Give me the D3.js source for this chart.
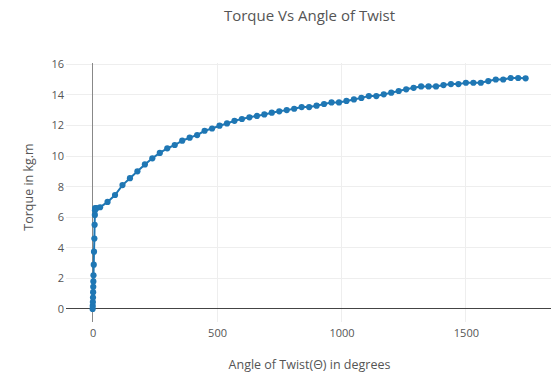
<!DOCTYPE html>
<html>
<head>
<meta charset="utf-8">
<script src="https://cdn.jsdelivr.net/npm/d3@7"></script>
<style>
  html, body { margin: 0; padding: 0; background: #fff; }
  svg { display: block; font-family: "Open Sans", "Noto Sans", sans-serif; }
</style>
</head>
<body>
<svg id="chart" width="551" height="374"></svg>
<script>
const angles = [0, 0.5, 1, 1.5, 2, 2.5, 3, 3.5, 4.5, 5.5, 7, 8, 9, 9.5, 10, 16, 30,
  60, 90, 120, 150, 180, 210, 240, 270, 300, 330, 360, 390, 420, 450, 480, 510, 540, 570,
  600, 630, 660, 690, 720, 750, 780, 810, 840, 870, 900, 930, 960, 990, 1020, 1050, 1080,
  1110, 1140, 1170, 1200, 1230, 1260, 1290, 1320, 1350, 1380, 1410, 1440, 1470, 1500,
  1530, 1560, 1590, 1620, 1650, 1680, 1710, 1740];
const torques = [0, 0.2, 0.45, 0.75, 1.1, 1.45, 1.8, 2.2, 2.9, 3.75, 4.6, 5.5, 6.15, 6.45, 6.6, 6.6, 6.65,
  7.0, 7.45, 8.1, 8.55, 9.0, 9.45, 9.85, 10.2, 10.5, 10.72, 11.0, 11.2, 11.37, 11.65, 11.8, 11.98, 12.13, 12.3,
  12.42, 12.53, 12.62, 12.72, 12.83, 12.92, 13.0, 13.09, 13.2, 13.2, 13.29, 13.4, 13.5, 13.5, 13.6, 13.7, 13.8,
  13.92, 13.92, 14.03, 14.14, 14.25, 14.36, 14.46, 14.55, 14.55, 14.55, 14.64, 14.7, 14.7, 14.79,
  14.79, 14.79, 14.9, 15.0, 15.0, 15.1, 15.1, 15.08];
const xTicks = [0, 500, 1000, 1500];
const yTicks = [0, 2, 4, 6, 8, 10, 12, 14, 16];
const titleText = "Torque Vs Angle of Twist";
const xTitle = "Angle of Twist(\u0398) in degrees";
const yTitle = "Torque in kg.m";

const data = angles.map((a, i) => ({x: a, y: torques[i]}));

const svg = d3.select("#chart");
const L = 66, R = 551, T = 63, B = 322;
const x = d3.scaleLinear().domain([-107, 1842]).range([L, R]);
const y = d3.scaleLinear().domain([-0.85, 16.08]).range([B, T]);

// grid
svg.append("g").selectAll("line").data(xTicks.filter(d => d !== 0)).join("line")
  .attr("x1", d => x(d)).attr("x2", d => x(d)).attr("y1", T).attr("y2", B)
  .attr("stroke", "#eee").attr("stroke-width", 1).attr("shape-rendering", "crispEdges");
svg.append("g").selectAll("line").data(yTicks.filter(d => d !== 0)).join("line")
  .attr("x1", L).attr("x2", R).attr("y1", d => y(d)).attr("y2", d => y(d))
  .attr("stroke", "#eee").attr("stroke-width", 1).attr("shape-rendering", "crispEdges");

// zero lines
svg.append("line").attr("x1", x(0)).attr("x2", x(0)).attr("y1", T).attr("y2", B)
  .attr("stroke", "#888").attr("stroke-width", 1).attr("shape-rendering", "crispEdges");
svg.append("line").attr("x1", L).attr("x2", R).attr("y1", y(0)).attr("y2", y(0))
  .attr("stroke", "#444").attr("stroke-width", 1).attr("shape-rendering", "crispEdges");

// axes (labels only) using d3 axes
const xAxis = d3.axisBottom(x).tickValues(xTicks).tickSize(0).tickPadding(0).tickFormat(d3.format("d"));
const gx = svg.append("g").attr("transform", `translate(0,${B + 7})`).call(xAxis);
gx.select(".domain").remove();
gx.selectAll("text").attr("fill", "#555").style("font-size", "11px").style("font-family", "'Open Sans', sans-serif");

const yAxis = d3.axisLeft(y).tickValues(yTicks).tickSize(0).tickPadding(0).tickFormat(d3.format("d"));
const gy = svg.append("g").attr("transform", `translate(${L - 2},0)`).call(yAxis);
gy.select(".domain").remove();
gy.selectAll("text").attr("fill", "#555").style("font-size", "11px").style("font-family", "'Open Sans', sans-serif");

// line + markers
const clr = "#1f77b4";
svg.append("path").datum(data)
  .attr("d", d3.line().x(d => x(d.x)).y(d => y(d.y)))
  .attr("fill", "none").attr("stroke", clr).attr("stroke-width", 2);
svg.append("g").selectAll("circle").data(data).join("circle")
  .attr("cx", d => x(d.x)).attr("cy", d => y(d.y)).attr("r", 3.1).attr("fill", clr);

// titles
svg.append("text").attr("x", 309.5).attr("y", 20.5).attr("text-anchor", "middle")
  .attr("fill", "#555").style("font-size", "15px").text(titleText);
svg.append("text").attr("x", 309.5).attr("y", 369).attr("text-anchor", "middle")
  .attr("fill", "#555").style("font-size", "12.5px").text(xTitle);
svg.append("text").attr("transform", "translate(33,187) rotate(-90)").attr("text-anchor", "middle")
  .attr("fill", "#555").style("font-size", "12.5px").text(yTitle);
</script>
</body>
</html>
